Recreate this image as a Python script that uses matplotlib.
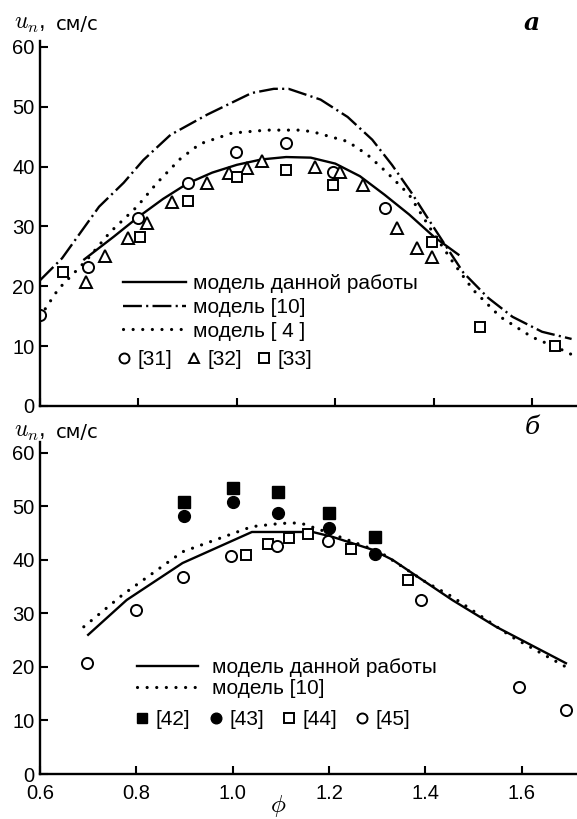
import matplotlib
matplotlib.use("Agg")
import matplotlib.pyplot as plt

plt.rcParams["font.family"] = ["Liberation Sans", "DejaVu Sans"]
plt.rcParams["mathtext.fontset"] = "cm"

# ---- panel a ----
phi_a_this = [0.69, 0.75, 0.80, 0.85, 0.90, 0.95, 1.00, 1.05, 1.10, 1.15, 1.20, 1.25, 1.30, 1.35, 1.40, 1.45]
un_a_this = [24.5, 28.3, 31.6, 34.6, 37.2, 39.0, 40.3, 41.2, 41.6, 41.5, 40.5, 38.4, 35.3, 32.0, 28.3, 25.3]

phi_a_m10 = [0.60, 0.645, 0.72, 0.77, 0.81, 0.865, 0.94, 1.03, 1.075, 1.105, 1.17, 1.225, 1.275, 1.315, 1.355, 1.39, 1.42, 1.46, 1.51, 1.56, 1.62, 1.68]
un_a_m10 = [21.0, 24.7, 33.3, 37.3, 41.1, 45.3, 48.7, 52.3, 53.0, 53.0, 51.2, 48.3, 44.5, 40.3, 35.6, 31.1, 27.3, 22.3, 18.1, 14.9, 12.4, 11.2]

phi_a_m4 = [0.60, 0.637, 0.695, 0.742, 0.797, 0.838, 0.885, 0.925, 0.99, 1.06, 1.13, 1.155, 1.225, 1.265, 1.305, 1.35, 1.395, 1.44, 1.48, 1.535, 1.60, 1.66, 1.69]
un_a_m4 = [14.9, 19.5, 24.4, 29.0, 33.3, 37.3, 41.3, 43.8, 45.6, 46.1, 46.1, 45.8, 44.2, 42.0, 39.0, 35.3, 29.4, 23.9, 19.4, 14.9, 11.5, 9.4, 8.2]

phi_31 = [0.60, 0.698, 0.80, 0.90, 0.998, 1.10, 1.195, 1.30]
un_31 = [15.2, 23.2, 31.4, 37.3, 42.5, 43.9, 39.1, 33.1]

phi_32 = [0.693, 0.732, 0.779, 0.817, 0.869, 0.94, 0.985, 1.02, 1.052, 1.159, 1.21, 1.256, 1.326, 1.366, 1.397]
un_32 = [20.7, 25.0, 28.1, 30.6, 34.1, 37.3, 38.9, 39.8, 41.0, 40.0, 39.1, 37.0, 29.8, 26.4, 24.9]

phi_33 = [0.647, 0.803, 0.901, 1.00, 1.10, 1.196, 1.397, 1.494, 1.647]
un_33 = [22.4, 28.2, 34.3, 38.3, 39.5, 37.0, 27.4, 13.2, 10.0]

# ---- panel b ----
phi_b_this = [0.70, 0.78, 0.896, 1.04, 1.10, 1.166, 1.207, 1.29, 1.332, 1.388, 1.456, 1.547, 1.692]
un_b_this = [26.0, 32.5, 39.4, 45.2, 45.2, 45.2, 44.3, 41.9, 40.0, 36.6, 32.5, 27.5, 20.7]

phi_b_m10 = [0.691, 0.772, 0.896, 1.04, 1.10, 1.14, 1.195, 1.305, 1.40, 1.456, 1.58, 1.692]
un_b_m10 = [27.5, 33.5, 41.5, 46.2, 46.8, 46.9, 45.2, 41.5, 35.9, 33.1, 25.6, 20.0]

phi_42 = [0.90, 1.00, 1.095, 1.20, 1.295]
un_42 = [50.8, 53.5, 52.6, 48.8, 44.3]

phi_43 = [0.90, 1.00, 1.095, 1.20, 1.295]
un_43 = [48.1, 50.8, 48.8, 46.0, 41.1]

phi_44 = [1.027, 1.073, 1.116, 1.156, 1.245, 1.365]
un_44 = [40.9, 43.0, 44.1, 44.9, 42.1, 36.3]

phi_45 = [0.698, 0.80, 0.897, 0.996, 1.093, 1.197, 1.392, 1.595, 1.692]
un_45 = [20.7, 30.7, 36.8, 40.8, 42.6, 43.5, 32.5, 16.3, 12.0]

yticks = [0, 10, 20, 30, 40, 50, 60]
xticks = [0.6, 0.8, 1.0, 1.2, 1.4, 1.6]

fs = 15
tfs = 14.5
lw = 1.7
dashdot = (0, (8, 1.8, 0.9, 1.8))
dotted = (0, (0.01, 3.0))

fig = plt.figure(figsize=(5.77, 8.19), dpi=100)
ax1 = fig.add_axes([0.0693, 0.5043, 0.9307, 0.4457])
ax2 = fig.add_axes([0.0693, 0.0549, 0.9307, 0.4054])


def style_axes(ax, xmax, ymax, labels):
    ax.set_xlim(0.6, xmax)
    ax.set_ylim(0, ymax)
    for s in ("top", "right"):
        ax.spines[s].set_visible(False)
    for s in ("left", "bottom"):
        ax.spines[s].set_linewidth(1.7)
    ax.set_yticks(yticks)
    ax.set_xticks(xticks)
    ax.tick_params(direction="in", length=6, width=1.5, labelsize=tfs, pad=4)
    ax.tick_params(axis="x", pad=7.5)
    if not labels:
        ax.set_xticklabels([])
    else:
        ax.set_xticklabels([f"{v:.1f}" for v in xticks])


style_axes(ax1, 1.691, 61, False)
style_axes(ax2, 1.715, 62, True)

mk = dict(ls="none", ms=8, mew=1.4, mec="black")
dot_kw = dict(color="black", lw=2.3, ls=dotted, dash_capstyle="round")

# panel a
l1, = ax1.plot(phi_a_this, un_a_this, "-", color="black", lw=lw, label="модель данной работы")
l2, = ax1.plot(phi_a_m10, un_a_m10, color="black", lw=lw, ls=dashdot, label="модель [10]")
l3, = ax1.plot(phi_a_m4, un_a_m4, label="модель [ 4 ]", **dot_kw)
m1, = ax1.plot(phi_31, un_31, marker="o", mfc="white", label="[31]", **mk)
m2, = ax1.plot(phi_32, un_32, marker="^", mfc="white", label="[32]", **mk)
m3, = ax1.plot(phi_33, un_33, marker="s", mfc="white", ms=7.5, mew=1.4, mec="black", ls="none",
               label="[33]")

leg = ax1.legend(handles=[l1, l2, l3], loc="upper left", bbox_to_anchor=(0.1546, 0.361),
                 frameon=False, fontsize=fs, handlelength=3.0, handletextpad=0.38,
                 labelspacing=0.23, borderpad=0, borderaxespad=0)
ax1.add_artist(leg)
ax1.legend(handles=[m1, m2, m3], loc="upper left", bbox_to_anchor=(0.145, 0.153),
           frameon=False, fontsize=fs, ncol=3, handlelength=0.6, handletextpad=0.35,
           columnspacing=0.75, borderpad=0, borderaxespad=0, markerscale=0.9)

# panel b
n1, = ax2.plot(phi_b_this, un_b_this, "-", color="black", lw=lw, label="модель данной работы")
n2, = ax2.plot(phi_b_m10, un_b_m10, label="модель [10]", **dot_kw)
p1, = ax2.plot(phi_42, un_42, marker="s", mfc="black", ls="none", ms=8, mec="black", label="[42]")
p2, = ax2.plot(phi_43, un_43, marker="o", mfc="black", ls="none", ms=8.5, mec="black", label="[43]")
p3, = ax2.plot(phi_44, un_44, marker="s", mfc="white", ms=7.5, mew=1.4, mec="black", ls="none",
               label="[44]")
p4, = ax2.plot(phi_45, un_45, marker="o", mfc="white", label="[45]", **mk)

leg2 = ax2.legend(handles=[n1, n2], loc="upper left", bbox_to_anchor=(0.1806, 0.349),
                  frameon=False, fontsize=fs, handlelength=2.95, handletextpad=0.67,
                  labelspacing=0.1, borderpad=0, borderaxespad=0)
ax2.add_artist(leg2)
ax2.legend(handles=[p1, p2, p3, p4], loc="upper left", bbox_to_anchor=(0.179, 0.193),
           frameon=False, fontsize=fs, ncol=4, handlelength=0.6, handletextpad=0.35,
           columnspacing=0.9, borderpad=0, borderaxespad=0, markerscale=0.9)

# labels
for ypx in (24, 432):
    fig.text(14 / 577, 1 - ypx / 819, r"$u_n$,", fontsize=17, va="center", ha="left")
    fig.text(56 / 577, 1 - ypx / 819, "см/с", fontsize=14, family="DejaVu Sans",
             va="center", ha="left")
fig.text(532 / 577, 1 - 23 / 819, "а", fontsize=18, style="italic", weight="bold",
         family="DejaVu Serif", va="center", ha="center")
fig.text(532 / 577, 1 - 428 / 819, "б", fontsize=18, style="italic",
         family="DejaVu Serif", va="center", ha="center")
fig.text(278 / 577, 1 - 806 / 819, r"$\phi$", fontsize=18, va="center", ha="center")

fig.savefig("out.png", dpi=100)
